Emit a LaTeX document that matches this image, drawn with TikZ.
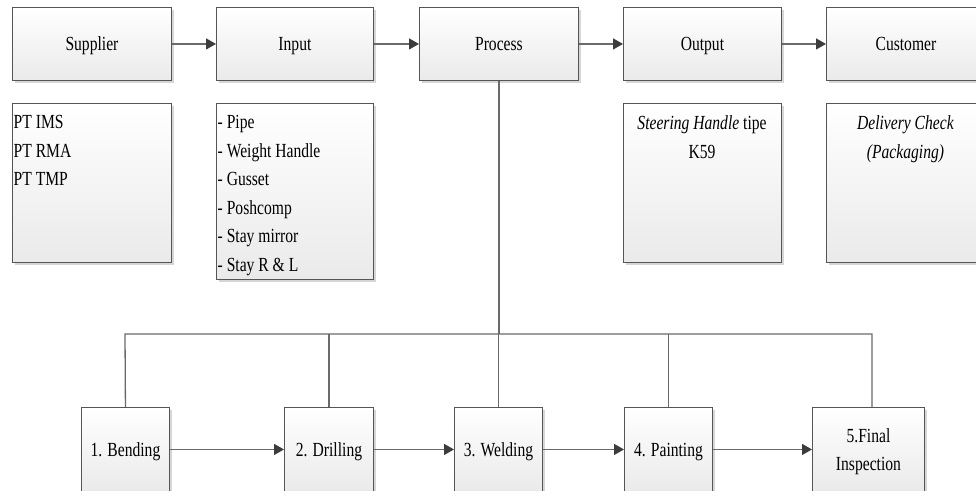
\documentclass[tikz,border=0pt]{standalone}
\usepackage{fontspec}
\setmainfont{Liberation Serif}[FakeStretch=0.78]
\usetikzlibrary{arrows.meta,shadows}
\definecolor{boxline}{HTML}{555555}
\definecolor{boxbot}{HTML}{EAEAEA}
\definecolor{linegray}{HTML}{6A6A6A}
\definecolor{tipgray}{HTML}{3C3C3C}
\definecolor{shade}{HTML}{D6D6D6}

\begin{document}
\begin{tikzpicture}[x=1pt,y=-1pt,
  every node/.style={font=\fontsize{20}{28.5}\selectfont, text=black},
  box/.style={rectangle, draw=boxline, line width=0.9pt,
    top color=white, bottom color=boxbot, anchor=north west, inner sep=0pt,
    drop shadow={shadow xshift=2.5pt, shadow yshift=-2.5pt, fill=shade, opacity=1}},
  topbox/.style={box, minimum height=73pt, text height=13.5pt, text depth=0.5pt},
  descbox/.style={box, minimum height=159pt},
  stepbox/.style={box, minimum height=84pt, align=center},
  oneline/.style={text height=14.5pt, text depth=0.5pt},
  listtext/.style={anchor=north west, inner sep=1pt, align=left},
  midtext/.style={anchor=north, inner sep=1pt, align=center},
  conn/.style={draw=linegray, line width=1.3pt},
  flow/.style={conn, -{Triangle[length=10pt,width=11pt,color=tipgray]}}
]
\clip (0,0) rectangle (976,490);
\fill[white] (0,0) rectangle (976,490);

% main chain
\node[topbox, minimum width=159pt] (sup)  at (12,7)  {Supplier};
\node[topbox, minimum width=157pt] (inp)  at (216,7) {Input};
\node[topbox, minimum width=159pt] (proc) at (419,7) {Process};
\node[topbox, minimum width=158pt] (out)  at (623,7) {Output};
\node[topbox, minimum width=159pt] (cust) at (826,7) {Customer};

\draw[flow] (sup) -- (inp);
\draw[flow] (inp) -- (proc);
\draw[flow] (proc) -- (out);
\draw[flow] (out) -- (cust);

% detail boxes
\node[descbox, minimum width=159pt] (supd)  at (12,103)  {};
\node[box, minimum width=157pt, minimum height=176pt] (inpd) at (216,103) {};
\node[descbox, minimum width=158pt] (outd)  at (623,103) {};
\node[descbox, minimum width=159pt] (custd) at (826,103) {};

\node[listtext] (supt) at (12.5,114.5) {PT IMS\\PT RMA\\PT TMP};
\node[listtext] (inpt) at (216.5,114.5) {- Pipe\\- Weight Handle\\- Gusset\\- Poshcomp\\- Stay mirror\\- Stay R \& L};
\node[midtext] (outt)  at (702,114.5) {\textit{Steering Handle} tipe\\K59};
\node[midtext] (custt) at (905.5,114.5) {\textit{Delivery Check}\\\textit{(Packaging)}};

% process steps
\node[stepbox, oneline, minimum width=88pt]  (b1) at (81,407)  {1. Bending};
\node[stepbox, oneline, minimum width=89pt]  (b2) at (284,407) {2. Drilling};
\node[stepbox, oneline, minimum width=88pt]  (b3) at (454,407) {3. Welding};
\node[stepbox, oneline, minimum width=88pt]  (b4) at (624,407) {4. Painting};
\node[stepbox, text depth=0pt, minimum width=112pt] (b5) at (812,407) {5.Final\\Inspection};

\draw[flow] (b1) -- (b2);
\draw[flow] (b2) -- (b3);
\draw[flow] (b3) -- (b4);
\draw[flow] (b4) -- (b5);

% distribution bus from Process to every step
\coordinate (busL) at (125,334);
\coordinate (busR) at (872,334);
\coordinate (t5) at (872,407);
\draw[conn] (proc.south) -- (proc.south |- busL);
\draw[conn] (b1.north) -- (busL) -- (busR) -- (t5);
\draw[conn] (b2.north) -- (b2.north |- busL);
\draw[conn] (b3.north) -- (b3.north |- busL);
\draw[conn] (b4.north) -- (b4.north |- busL);
\end{tikzpicture}
\end{document}
